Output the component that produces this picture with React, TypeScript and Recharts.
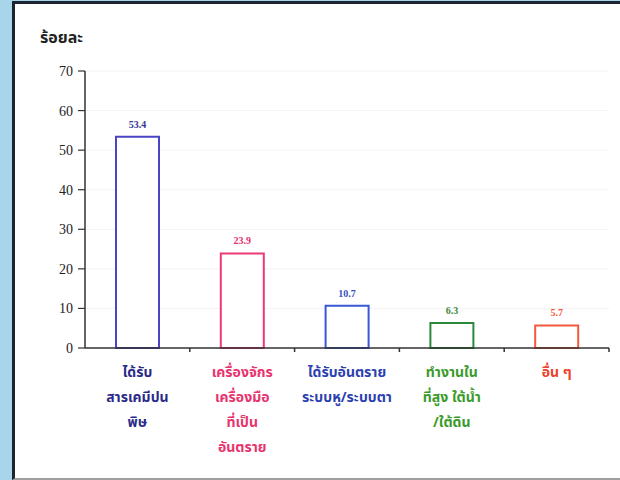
import React from 'react';
import { BarChart, Bar, XAxis, YAxis, Cell, LabelList, CartesianGrid } from 'recharts';

const categoryKeys = ['chem', 'machine', 'senses', 'height', 'other'];
const categoryLines = [
  ['ได้รับ', 'สารเคมีปน', 'พิษ'],
  ['เครื่องจักร', 'เครื่องมือ', 'ที่เป็น', 'อันตราย'],
  ['ได้รับอันตราย', 'ระบบหู/ระบบตา'],
  ['ทำงานใน', 'ที่สูง ใต้น้ำ', '/ใต้ดิน'],
  ['อื่น ๆ'],
];
const values = [53.4, 23.9, 10.7, 6.3, 5.7];
const yTicks = [0, 10, 20, 30, 40, 50, 60, 70];
const yTitle = 'ร้อยละ';

const barStroke = ['#4a44c6', '#ee3a74', '#3a58d6', '#2a8a3a', '#f25a3c'];
const valueColors = ['#35359a', '#e8336e', '#3a4fc0', '#3a8a3a', '#f05a3a'];
const catColors = ['#2b2a88', '#e8336e', '#2c3fb0', '#3a9a2a', '#f0402a'];

const data = categoryKeys.map((k, i) => ({ key: k, value: values[i] }));

const thaiFont = '"Noto Sans Thai", "Noto Sans", "DejaVu Sans", sans-serif';
const serifFont = '"Liberation Serif", "DejaVu Serif", serif';

const CatTick = (props: any) => {
  const { x, y, payload } = props;
  const idx = payload.index;
  const lines = categoryLines[idx] || [];
  const half = payload.offset ?? 52.4;
  return (
    <g>
      <line x1={x + half} y1={y} x2={x + half} y2={y + 4} stroke="#333" strokeWidth={1.5} />
      {lines.map((ln, i) => (
        <text
          key={i}
          x={x}
          y={y + 29 + i * 25}
          textAnchor="middle"
          fill={catColors[idx]}
          fontSize={14}
          fontWeight={700}
          fontFamily={thaiFont}
        >
          {ln}
        </text>
      ))}
    </g>
  );
};

const ValueLabel = (props: any) => {
  const { x, y, width, value, index } = props;
  return (
    <text
      x={x + width / 2}
      y={y - 9}
      textAnchor="middle"
      fill={valueColors[index]}
      fontSize={10}
      fontWeight={700}
      fontFamily={serifFont}
    >
      {value}
    </text>
  );
};

export default function App() {
  return (
    <div style={{ position: 'absolute', left: 0, top: 0, width: 620, height: 480, background: '#a9d5ea', overflow: 'hidden' }}>
      <div
        style={{
          position: 'absolute',
          left: 12,
          top: 1,
          width: 620,
          height: 474,
          background: '#ffffff',
          borderLeft: '3px solid #1d2630',
          borderTop: '3px solid #1d2630',
          borderBottom: '2px solid #a0a0a0',
        }}
      />
      <div
        style={{
          position: 'absolute',
          left: 40,
          top: 28,
          fontFamily: thaiFont,
          fontWeight: 700,
          fontSize: 16,
          color: '#222',
          lineHeight: '20px',
        }}
      >
        {yTitle}
      </div>
      <div style={{ position: 'absolute', left: 0, top: 0 }}>
        <BarChart
          width={620}
          height={480}
          data={data}
          margin={{ top: 71, right: 11, bottom: 0, left: 0 }}
        >
          <CartesianGrid vertical={false} stroke="#f3f3f3" />
          <XAxis
            dataKey="key"
            tick={<CatTick />}
            tickLine={false}
            tickSize={0}
            tickMargin={0}
            interval={0}
            axisLine={{ stroke: '#333', strokeWidth: 1.5 }}
            height={132}
          />
          <YAxis
            domain={[0, 70]}
            ticks={yTicks}
            interval={0}
            width={85}
            tickSize={7}
            tickMargin={5}
            axisLine={{ stroke: '#333', strokeWidth: 1.5 }}
            tickLine={{ stroke: '#333', strokeWidth: 1.2 }}
            tick={{ fill: '#222', fontSize: 14, fontFamily: serifFont }}
          />
          <Bar dataKey="value" barSize={43} fill="#ffffff" strokeWidth={2} isAnimationActive={false}>
            {data.map((d, i) => (
              <Cell key={d.key} stroke={barStroke[i]} fill="#ffffff" />
            ))}
            <LabelList dataKey="value" content={<ValueLabel />} />
          </Bar>
        </BarChart>
      </div>
    </div>
  );
}
